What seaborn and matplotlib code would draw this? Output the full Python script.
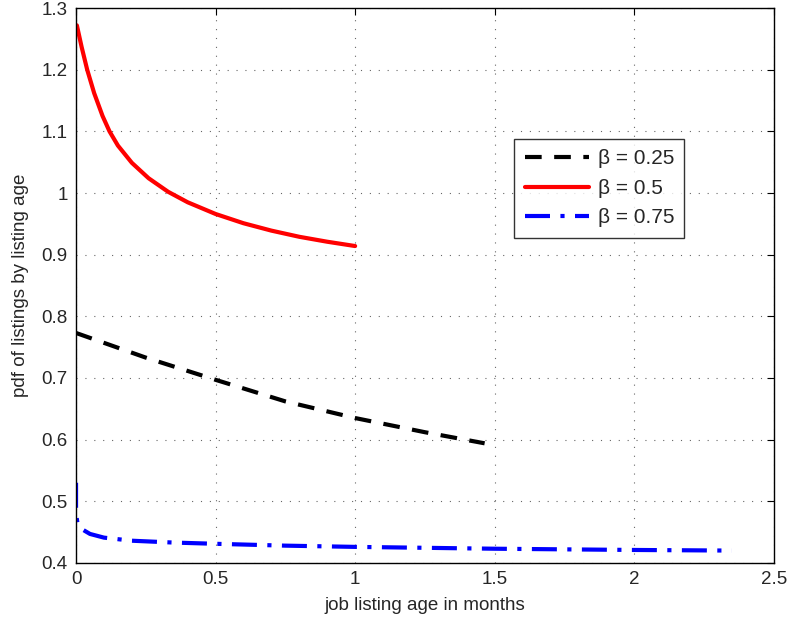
import matplotlib
matplotlib.use("Agg")
import matplotlib.pyplot as plt
import pandas as pd
import seaborn as sns

# curves
x_b025 = [0.0, 0.25, 0.5, 0.75, 1.0, 1.25, 1.464]
y_b025 = [0.773, 0.733, 0.697, 0.662, 0.635, 0.612, 0.594]

x_b05 = [0.003, 0.02, 0.04, 0.065, 0.095, 0.12, 0.15, 0.2, 0.26, 0.33, 0.4,
         0.5, 0.6, 0.7, 0.8, 0.9, 1.0]
y_b05 = [1.272, 1.237, 1.2, 1.162, 1.125, 1.1, 1.077, 1.049, 1.024, 1.002, 0.985,
         0.966, 0.951, 0.939, 0.929, 0.921, 0.914]

x_b075 = [0.0, 0.0, 0.005, 0.02, 0.05, 0.1, 0.2, 0.35, 0.5, 0.75, 1.0, 1.5, 2.0, 2.35]
y_b075 = [0.53, 0.48, 0.465, 0.455, 0.447, 0.441, 0.436, 0.433, 0.431, 0.428, 0.426, 0.423, 0.421, 0.42]

labels = ["β = 0.25", "β = 0.5", "β = 0.75"]
colors = ["black", "red", "blue"]
styles = [(0, (4, 3)), "-", (0, (6, 2.5, 1, 2.5))]

sns.set_style("white")
plt.rcParams["font.family"] = ["Liberation Sans", "DejaVu Sans"]

fig, ax = plt.subplots(figsize=(7.92, 6.22), dpi=100)
fig.subplots_adjust(left=0.096, right=0.977, top=0.987, bottom=0.095)

series = [(x_b025, y_b025), (x_b05, y_b05), (x_b075, y_b075)]
for (xs, ys), lab, col, ls in zip(series, labels, colors, styles):
    df = pd.DataFrame({"x": xs, "y": ys})
    sns.lineplot(data=df, x="x", y="y", ax=ax, color=col, linestyle=ls,
                 linewidth=3, label=lab, sort=False, estimator=None)

ax.set_xlim(0, 2.5)
ax.set_ylim(0.4, 1.3)
ax.set_xticks([0, 0.5, 1, 1.5, 2, 2.5])
ax.set_xticklabels(["0", "0.5", "1", "1.5", "2", "2.5"])
ax.set_yticks([0.4, 0.5, 0.6, 0.7, 0.8, 0.9, 1.0, 1.1, 1.2, 1.3])
ax.set_yticklabels(["0.4", "0.5", "0.6", "0.7", "0.8", "0.9", "1", "1.1", "1.2", "1.3"])
ax.grid(True, linestyle=(0, (1, 7)), color="black", linewidth=0.8, alpha=0.6)
ax.tick_params(direction="in", top=True, right=True, length=5, width=0.8,
               labelsize=13.5, color="black", pad=6)
for s in ax.spines.values():
    s.set_color("black")
    s.set_linewidth(1)

ax.set_xlabel("job listing age in months", fontsize=13.5, labelpad=6)
ax.set_ylabel("pdf of listings by listing age", fontsize=13.5, labelpad=9)

leg = ax.legend(loc="upper left", bbox_to_anchor=(0.628, 0.764), fontsize=15,
                frameon=True, fancybox=False, edgecolor="black", borderaxespad=0,
                handlelength=3.1, borderpad=0.5, labelspacing=0.5, handletextpad=0.4)
leg.get_frame().set_linewidth(1)

fig.savefig("out.png", dpi=100)
